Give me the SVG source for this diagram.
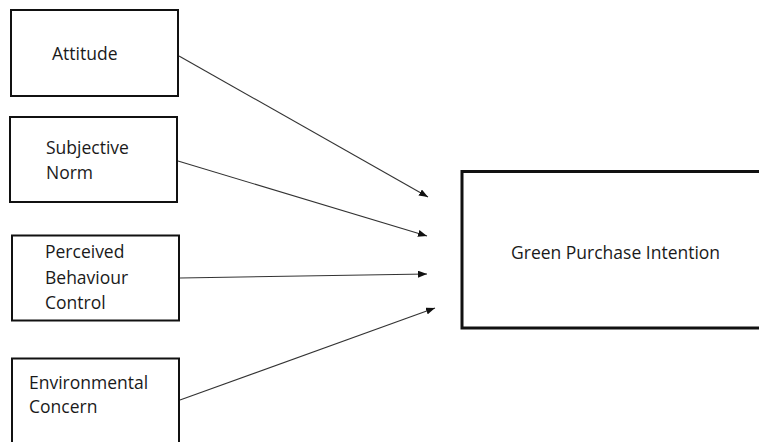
<svg xmlns="http://www.w3.org/2000/svg" width="759" height="442" viewBox="0 0 759 442">
<defs>
<style>
.box{fill:#fff;stroke:#111;stroke-width:2}
.big{fill:#fff;stroke:#111;stroke-width:3}
.t{font-family:"Open Sans","Liberation Sans",sans-serif;font-size:17.5px;fill:#1a1a1a}
.c{stroke:#333;stroke-width:1.1;fill:none;marker-end:url(#ah)}
</style>
<marker id="ah" markerUnits="userSpaceOnUse" markerWidth="9" markerHeight="7" refX="9" refY="3.5" orient="auto">
<path d="M0,0 L9,3.5 L0,7 z" fill="#111"/>
</marker>
</defs>
<rect width="759" height="442" fill="#fff"/>
<g id="attitude">
<rect class="box" x="11" y="10" width="167" height="86"/>
<text class="t" x="52" y="60">Attitude</text>
</g>
<g id="subjective-norm">
<rect class="box" x="10" y="117" width="167" height="85"/>
<text class="t" x="46" y="154">Subjective</text>
<text class="t" x="46" y="179">Norm</text>
</g>
<g id="perceived-behaviour-control">
<rect class="box" x="12" y="235.5" width="167" height="85"/>
<text class="t" x="45" y="258">Perceived</text>
<text class="t" x="45" y="284">Behaviour</text>
<text class="t" x="45" y="309">Control</text>
</g>
<g id="environmental-concern">
<rect class="box" x="12" y="358.5" width="167" height="100"/>
<text class="t" x="29" y="389">Environmental</text>
<text class="t" x="29" y="413">Concern</text>
</g>
<g id="green-purchase-intention">
<rect class="big" x="462" y="171.5" width="300" height="156.5"/>
<text class="t" x="511" y="259">Green Purchase Intention</text>
</g>
<g id="connectors">
<line class="c" x1="179" y1="56" x2="428" y2="197"/>
<line class="c" x1="178" y1="161" x2="427" y2="236"/>
<line class="c" x1="180" y1="278" x2="427" y2="274"/>
<line class="c" x1="180" y1="400" x2="435" y2="308"/>
</g>
</svg>
